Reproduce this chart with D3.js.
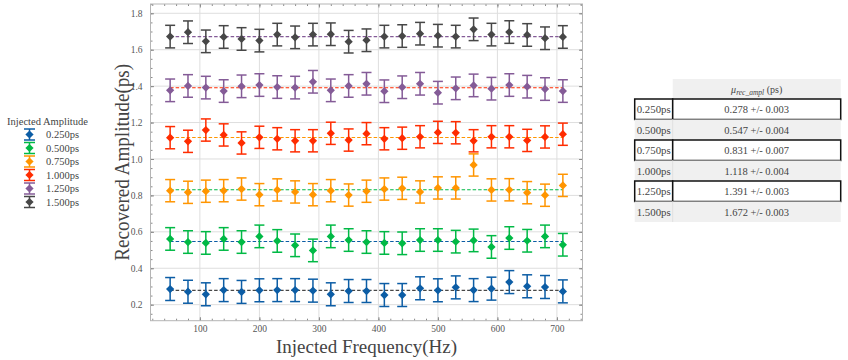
<!DOCTYPE html>
<html>
<head>
<meta charset="utf-8">
<script src="https://cdn.jsdelivr.net/npm/d3@7"></script>
<style>
  body { margin: 0; background: white; }
  svg { display: block; font-family: "Liberation Serif", "DejaVu Serif", serif; }
</style>
</head>
<body>
<svg id="chart" width="848" height="360"></svg>
<script>
// injected frequencies (Hz)
const freqs = [50, 80, 110, 140, 170, 200, 230, 260, 290, 320, 350, 380, 410, 440, 470, 500, 530, 560, 590, 620, 650, 680, 710]

// recovered amplitude per injected amplitude (ps)
const amp0250 = [0.286, 0.271, 0.257, 0.280, 0.270, 0.279, 0.280, 0.280, 0.277, 0.257, 0.275, 0.275, 0.253, 0.253, 0.290, 0.279, 0.295, 0.280, 0.288, 0.324, 0.301, 0.297, 0.273]
const amp0500 = [0.561, 0.544, 0.539, 0.561, 0.544, 0.575, 0.550, 0.526, 0.498, 0.575, 0.555, 0.544, 0.539, 0.537, 0.555, 0.555, 0.546, 0.553, 0.517, 0.566, 0.551, 0.575, 0.529]
const amp0750 = [0.826, 0.817, 0.823, 0.826, 0.835, 0.804, 0.830, 0.819, 0.804, 0.826, 0.802, 0.823, 0.835, 0.839, 0.819, 0.841, 0.841, 0.967, 0.830, 0.831, 0.815, 0.801, 0.855]
const amp1000 = [1.117, 1.097, 1.159, 1.132, 1.088, 1.119, 1.111, 1.100, 1.100, 1.141, 1.104, 1.139, 1.111, 1.114, 1.122, 1.146, 1.144, 1.100, 1.122, 1.122, 1.102, 1.121, 1.136]
const amp1250 = [1.377, 1.401, 1.392, 1.373, 1.399, 1.406, 1.395, 1.392, 1.424, 1.377, 1.401, 1.413, 1.372, 1.394, 1.413, 1.364, 1.388, 1.404, 1.386, 1.406, 1.397, 1.384, 1.373]
const amp1500 = [1.672, 1.696, 1.646, 1.670, 1.659, 1.650, 1.683, 1.668, 1.683, 1.685, 1.644, 1.652, 1.672, 1.675, 1.688, 1.677, 1.672, 1.712, 1.683, 1.697, 1.681, 1.663, 1.670]

// half-length of the error bars, one per series
const barErrors = [0.063, 0.062, 0.061, 0.061, 0.062, 0.062]

const seriesLabels = ["0.250ps", "0.500ps", "0.750ps", "1.000ps", "1.250ps", "1.500ps"]
const meanValues = [0.278, 0.547, 0.831, 1.118, 1.391, 1.672]
const meanErrors = ["0.003", "0.004", "0.007", "0.004", "0.003", "0.003"]

const xTicks = [100, 200, 300, 400, 500, 600, 700]
const yTicks = [0.2, 0.4, 0.6, 0.8, 1.0, 1.2, 1.4, 1.6, 1.8]

const colors = ["#0C5DA5", "#00B945", "#FF9500", "#FF2C00", "#845B97", "#474747"]
const allAmps = [amp0250, amp0500, amp0750, amp1000, amp1250, amp1500]

const series = allAmps.map((vals, i) => ({
    label: seriesLabels[i],
    color: colors[i],
    // the dashed mean line took the previous colour of the cycle
    meanColor: colors[(i + colors.length - 1) % colors.length],
    mean: meanValues[i],
    err: barErrors[i],
    points: vals.map((v, j) => ({f: freqs[j], v: v}))
}))

const svg = d3.select("#chart")
const plot = {left: 150.5, right: 582.5, top: 4, bottom: 320.7}

const x = d3.scaleLinear()
            .domain([17, 743])
            .range([plot.left, plot.right])

const y = d3.scaleLinear()
            .domain([0.112, 1.851])
            .range([plot.bottom, plot.top])

// grid
const grid = svg.append("g")
grid.selectAll(".gx").data(xTicks).join("line")
    .attr("x1", d => x(d)).attr("x2", d => x(d))
    .attr("y1", plot.top).attr("y2", plot.bottom)
    .attr("stroke", "#dedede").attr("stroke-width", 1)
grid.selectAll(".gy").data(yTicks).join("line")
    .attr("x1", plot.left).attr("x2", plot.right)
    .attr("y1", d => y(d)).attr("y2", d => y(d))
    .attr("stroke", "#dedede").attr("stroke-width", 1)

// axes with inward ticks on all four sides
const tickColor = "#8a8a8a"
const xMinor = d3.range(20, 743, 20)
const yMinor = d3.range(0.15, 1.851, 0.05)

function styleAxis(g) {
    g.select(".domain").remove()
    g.selectAll("line").attr("stroke", tickColor)
    g.selectAll("text").attr("fill", "#555").attr("font-size", "9.5px")
        .attr("font-family", "Liberation Serif, serif")
}

svg.append("g").attr("transform", `translate(0,${plot.bottom})`)
   .call(d3.axisBottom(x).tickValues(xTicks).tickSize(-3.5).tickPadding(5))
   .call(styleAxis)
svg.append("g").attr("transform", `translate(0,${plot.bottom})`)
   .call(d3.axisBottom(x).tickValues(xMinor).tickSize(-2).tickFormat(""))
   .call(styleAxis)
svg.append("g").attr("transform", `translate(0,${plot.top})`)
   .call(d3.axisTop(x).tickValues(xTicks).tickSize(-3.5).tickFormat(""))
   .call(styleAxis)
svg.append("g").attr("transform", `translate(0,${plot.top})`)
   .call(d3.axisTop(x).tickValues(xMinor).tickSize(-2).tickFormat(""))
   .call(styleAxis)

svg.append("g").attr("transform", `translate(${plot.left},0)`)
   .call(d3.axisLeft(y).tickValues(yTicks).tickSize(-3.5).tickPadding(8).tickFormat(d3.format(".1f")))
   .call(styleAxis)
svg.append("g").attr("transform", `translate(${plot.left},0)`)
   .call(d3.axisLeft(y).tickValues(yMinor).tickSize(-2).tickFormat(""))
   .call(styleAxis)
svg.append("g").attr("transform", `translate(${plot.right},0)`)
   .call(d3.axisRight(y).tickValues(yTicks).tickSize(-3.5).tickFormat(""))
   .call(styleAxis)
svg.append("g").attr("transform", `translate(${plot.right},0)`)
   .call(d3.axisRight(y).tickValues(yMinor).tickSize(-2).tickFormat(""))
   .call(styleAxis)

svg.append("rect")
   .attr("x", plot.left).attr("y", plot.top)
   .attr("width", plot.right - plot.left).attr("height", plot.bottom - plot.top)
   .attr("fill", "none").attr("stroke", "#b5b5b5").attr("stroke-width", 1)

// axis labels
svg.append("text")
   .attr("x", (plot.left + plot.right) / 2).attr("y", 353)
   .attr("text-anchor", "middle").attr("font-size", "19px").attr("fill", "#444")
   .attr("textLength", 181).attr("lengthAdjust", "spacingAndGlyphs")
   .text("Injected Frequency(Hz)")

svg.append("text")
   .attr("transform", `translate(129,${(plot.top + plot.bottom) / 2}) rotate(-90)`)
   .attr("text-anchor", "middle").attr("font-size", "20px").attr("fill", "#444")
   .attr("textLength", 197).attr("lengthAdjust", "spacingAndGlyphs")
   .text("Recovered Amplitude(ps)")

// mean lines
svg.append("g").selectAll("line").data(series).join("line")
   .attr("x1", x(freqs[0])).attr("x2", x(freqs[freqs.length - 1]))
   .attr("y1", d => y(d.mean)).attr("y2", d => y(d.mean))
   .attr("stroke", d => d.meanColor).attr("stroke-width", 1.2)
   .attr("stroke-dasharray", "3.5,2")

// error bars and markers
const diamond = d3.symbol().type(d3.symbolSquare).size(34)

function drawErrorBar(g, cx, cy, half, capW, color) {
    g.append("line").attr("x1", cx).attr("x2", cx).attr("y1", cy - half).attr("y2", cy + half)
     .attr("stroke", color).attr("stroke-width", 1.5)
    g.append("line").attr("x1", cx - capW).attr("x2", cx + capW).attr("y1", cy - half).attr("y2", cy - half)
     .attr("stroke", color).attr("stroke-width", 1.5)
    g.append("line").attr("x1", cx - capW).attr("x2", cx + capW).attr("y1", cy + half).attr("y2", cy + half)
     .attr("stroke", color).attr("stroke-width", 1.5)
    g.append("path").attr("d", diamond)
     .attr("transform", `translate(${cx},${cy}) rotate(45)`)
     .attr("fill", color)
}

series.forEach(s => {
    const g = svg.append("g")
    s.points.forEach(p => {
        const cy = y(p.v)
        const half = y(p.v - s.err) - cy
        drawErrorBar(g, x(p.f), cy, half, 5, s.color)
    })
})

// legend
const legend = svg.append("g")
legend.append("text").attr("x", 47.5).attr("y", 125)
      .attr("text-anchor", "middle").attr("font-size", "10.5px").attr("fill", "#444")
      .text("Injected Amplitude")
series.forEach((s, i) => {
    const ly = 134.5 + i * 13.5
    const g = legend.append("g")
    drawErrorBar(g, 29.5, ly, 5.5, 5.5, s.color)
    g.append("text").attr("x", 46).attr("y", ly + 3.5)
     .attr("font-size", "10.5px").attr("fill", "#444").text(s.label)
})

// summary table
const table = svg.append("g")
const tb = {x0: 634.7, x1: 672.7, x2: 840.7, top: 79, headH: 20, rowH: 20.5}

table.append("rect").attr("x", tb.x1).attr("y", tb.top)
     .attr("width", tb.x2 - tb.x1).attr("height", tb.headH).attr("fill", "#f0f0f0")
const head = table.append("text").attr("x", (tb.x1 + tb.x2) / 2).attr("y", tb.top + 13.5)
     .attr("text-anchor", "middle").attr("font-size", "10px").attr("fill", "#444")
head.append("tspan").attr("font-style", "italic").text("\u03bc")
head.append("tspan").attr("font-style", "italic").attr("font-size", "7.5px").attr("dy", 2).text("rec_ampl")
head.append("tspan").attr("dy", -2).text(" (ps)")

series.forEach((s, i) => {
    const ry = tb.top + tb.headH + i * tb.rowH
    const boxed = i % 2 === 0
    if (boxed) {
        table.append("rect").attr("x", tb.x0).attr("y", ry).attr("width", tb.x1 - tb.x0).attr("height", tb.rowH)
             .attr("fill", "white").attr("stroke", "#111").attr("stroke-width", 1.5)
        table.append("rect").attr("x", tb.x1).attr("y", ry).attr("width", tb.x2 - tb.x1).attr("height", tb.rowH)
             .attr("fill", "white").attr("stroke", "#111").attr("stroke-width", 1.5)
    } else {
        table.append("rect").attr("x", tb.x0).attr("y", ry).attr("width", tb.x2 - tb.x0).attr("height", tb.rowH)
             .attr("fill", "#f0f0f0")
        table.append("line").attr("x1", tb.x1).attr("x2", tb.x1).attr("y1", ry).attr("y2", ry + tb.rowH)
             .attr("stroke", "#e0e0e0").attr("stroke-width", 1)
    }
    table.append("text").attr("x", (tb.x0 + tb.x1) / 2).attr("y", ry + 14)
         .attr("text-anchor", "middle").attr("font-size", "10.5px").attr("fill", "#444")
         .attr("textLength", 34).attr("lengthAdjust", "spacingAndGlyphs")
         .text(s.label)
    table.append("text").attr("x", (tb.x1 + tb.x2) / 2).attr("y", ry + 14)
         .attr("text-anchor", "middle").attr("font-size", "10.5px").attr("fill", "#444")
         .text(d3.format(".3f")(s.mean) + " +/- " + meanErrors[i])
})
</script>
</body>
</html>
